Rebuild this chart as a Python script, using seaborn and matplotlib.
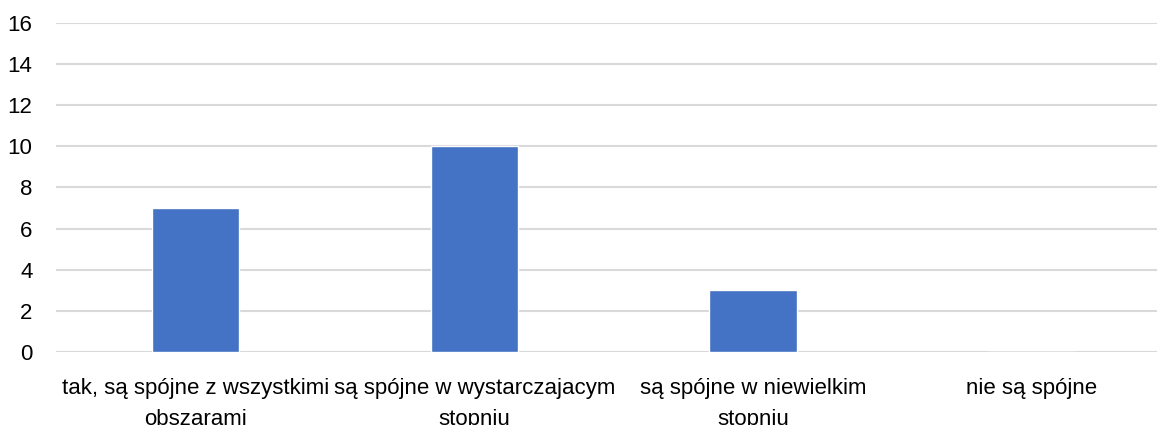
import pandas as pd
import numpy as np
import matplotlib.pyplot as plt
import seaborn as sns

kategorie = ["tak, są spójne z wszystkimi\nobszarami",
             "są spójne w wystarczajacym\nstopniu",
             "są spójne w niewielkim\nstopniu",
             "nie są spójne"]
wartosci = [7, 10, 3, 0]
yticks = list(range(0, 17, 2))

sns.set_style("white")
plt.rcParams['font.family'] = ['Liberation Sans', 'DejaVu Sans']

df = pd.DataFrame({'kat': kategorie, 'n': wartosci})

fig = plt.figure(figsize=(11.57, 4.25), dpi=100)
# os wychodzi troche poza prawa krawedz, jak w oryginale
ax = fig.add_axes([0.0486, 0.172, 0.9637, 0.774])
sns.barplot(ax=ax, data=df, x='kat', y='n', color='#4472C4', width=0.313, saturation=1)

ax.set_ylim(0, 16)
ax.set_yticks(yticks)
ax.yaxis.grid(True, color='#d9d9d9', linewidth=1.5)
ax.set_axisbelow(True)
for s in ax.spines.values():
    s.set_visible(False)
ax.tick_params(axis='both', length=0, labelsize=16, colors='black')
ax.tick_params(axis='y', pad=17)
ax.tick_params(axis='x', pad=19)
ax.set_xlabel('')
ax.set_ylabel('')
for lab in ax.get_xticklabels():
    lab.set_linespacing(1.6)

fig.savefig('out.png', dpi=100)
